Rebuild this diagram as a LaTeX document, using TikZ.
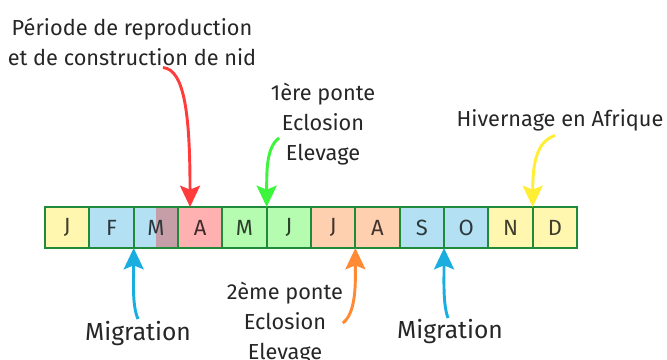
\documentclass[tikz,border=0pt]{standalone}
\usepackage{fontspec}
\setmainfont{Fira Sans}
\usepackage{tikz}
\usetikzlibrary{positioning,calc,arrows.meta}
\definecolor{cyellow}{HTML}{FFF7B0}
\definecolor{cblue}{HTML}{B3E1F3}
\definecolor{cpink}{HTML}{FFB0B0}
\definecolor{cgreen}{HTML}{B5FCB0}
\definecolor{corange}{HTML}{FFD0B0}
\definecolor{cmauve}{HTML}{C69EA8}
\definecolor{cborder}{HTML}{1E8A3A}
\definecolor{ared}{HTML}{FF3B3B}
\definecolor{agreen}{HTML}{3CF53C}
\definecolor{ayellow}{HTML}{FFEE33}
\definecolor{aorange}{HTML}{FF8A33}
\definecolor{ablue}{HTML}{1AAEE0}
\tikzset{
  cell/.style={draw=cborder,line width=1.6pt,fill=#1,text=#1!25!black,
    minimum width=33.25pt,minimum height=30.75pt,inner sep=0pt,outer sep=0pt,
    font=\fontsize{16.5}{18}\selectfont},
  lbl/.style={align=center,text=black!85,font=\fontsize{16.3}{22.5}\selectfont},
  biglbl/.style={text=black!85,font=\fontsize{18.5}{22}\selectfont},
  pointer/.style={line width=2.2pt,-{Stealth[length=16pt,width=15pt,inset=3pt]}}
}

\begin{document}
\begin{tikzpicture}[x=0.75pt,y=-0.75pt,node distance=0pt]
\useasboundingbox (0,0) rectangle (667,360);
% months
\node[cell=cyellow] (jan) at (67.2,227.5) {J};
\node[cell=cblue,right=of jan] (feb) {F};
\node[cell=cblue,right=of feb,
  path picture={\fill[cmauve] (path picture bounding box.south) rectangle (path picture bounding box.north east);}] (mar) {M};
\node[cell=cpink,right=of mar] (apr) {A};
\node[cell=cgreen,right=of apr] (may) {M};
\node[cell=cgreen,right=of may] (jun) {J};
\node[cell=corange,right=of jun] (jul) {J};
\node[cell=corange,right=of jul] (aug) {A};
\node[cell=cblue,right=of aug] (sep) {S};
\node[cell=cblue,right=of sep] (oct) {O};
\node[cell=cyellow,right=of oct] (nov) {N};
\node[cell=cyellow,right=of nov] (dec) {D};
% labels
\node[lbl] (repro) at (132,42) {P\'eriode de reproduction\\et de construction de nid};
\node[lbl] (ponteA) at (323,124) {1\`ere ponte\\Eclosion\\Elevage};
\node[lbl] (hiver) at (560,120) {Hivernage en Afrique};
\node[lbl] (ponteB) at (285,323) {2\`eme ponte\\Eclosion\\Elevage};
\node[biglbl] (migA) at (138,334) {Migration};
\node[biglbl] (migB) at (450,332) {Migration};
% arrows
\draw[pointer,ared] ($(repro.south)+(31,-3)$) .. controls +(22,2) and +(0,-90) .. ($(apr.north west)+(12,0)$);
\draw[pointer,agreen] ($(ponteA.west)+(13,14)$) .. controls +(-13,9) and +(0,-35) .. (may.north east);
\draw[pointer,ayellow] ($(hiver.south)+(-5,0)$) .. controls +(-18,6) and +(0,-45) .. (nov.north east);
\draw[pointer,ablue] ($(migA.north)+(0,2)$) .. controls +(-6,-14) and +(0,35) .. (feb.south east);
\draw[pointer,aorange] ($(ponteB.east)+(-5,0)$) .. controls +(14,-10) and +(0,32) .. (jul.south east);
\draw[pointer,ablue] ($(migB.north)+(-2,3)$) .. controls +(-5,-14) and +(0,35) .. (sep.south east);
\end{tikzpicture}
\end{document}
